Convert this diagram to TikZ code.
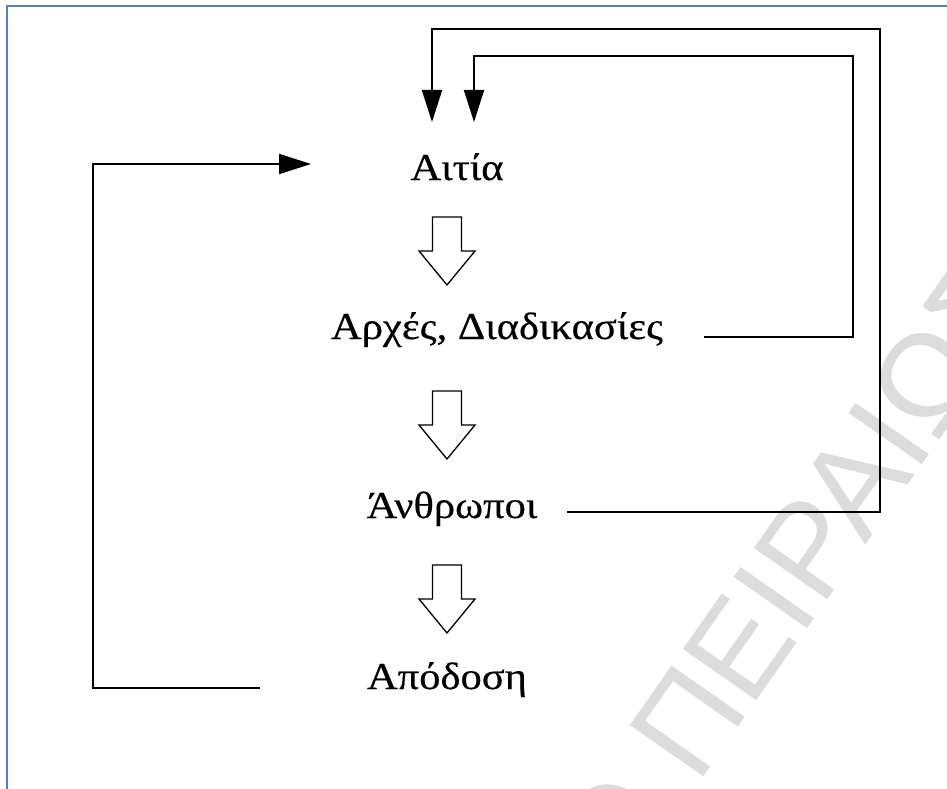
\documentclass[tikz,border=0pt]{standalone}
\usepackage{fontspec}
\setmainfont[FakeStretch=1.12,FakeBold=0.4]{Liberation Serif}
\newfontfamily\wmfont{Liberation Sans}
\usetikzlibrary{arrows.meta,calc}
\definecolor{frameblue}{HTML}{4F81BD}
\definecolor{wmgray}{HTML}{DCDCDC}

\tikzset{
  stage/.style={font=\fontsize{38}{42}\selectfont, inner sep=0pt, anchor=base},
  link/.style={line width=2pt, draw=black},
  arr/.style={link, -{Triangle[length=32pt,width=20pt]}},
  blockarrow/.style={draw=black, line width=1.3pt, fill=white, line join=miter},
  blockdown/.pic={
    \draw[blockarrow] (-14.5,0) -- (14.5,0) -- (14.5,34) -- (28,34)
      -- (0,68) -- (-28,34) -- (-14.5,34) -- cycle;
  }
}

\begin{document}
\begin{tikzpicture}[x=1pt,y=-1pt]
\useasboundingbox (0,0) rectangle (947,789);
\fill[white] (0,0) rectangle (947,789);

% faint watermark running diagonally
\begin{scope}
  \clip (0,0) rectangle (947,789);
  \node[rotate=55, anchor=base west, inner sep=0pt, text=wmgray,
        font=\wmfont\fontsize{130}{130}\selectfont] (wm) at (697,786)
        {\llap{Ο\ }ΠΕΙΡΑΙΩΣ};
\end{scope}

% page frame (left and top edges)
\draw[frameblue, line width=2.5pt] (7,789) -- (7,6) -- (947,6);

% stages
\node[stage] (cause)  at (457,180) {Αιτία};
\node[stage] (proc)   at (497,339) {Αρχές, Διαδικασίες};
\node[stage] (people) at (452,518) {Άνθρωποι};
\node[stage] (perf)   at (447,689) {Απόδοση};

% hollow arrows between stages
\pic at (447,217) {blockdown};
\pic at (447,391) {blockdown};
\pic at (447,565) {blockdown};

% loose ends of the feedback lines
\coordinate (perfOut)   at (260,688);
\coordinate (causeIn)   at (311,164);
\coordinate (peopleOut) at (567,512);
\coordinate (procOut)   at (704,337);
\coordinate (topInA)    at (432,122);
\coordinate (topInB)    at (474,122);

% feedback: performance back to cause
\draw[arr] (perfOut) -- (93,688) |- (causeIn);
% feedback: people back to cause
\draw[arr] (peopleOut) -| (880,29) -| (topInA);
% feedback: procedures back to cause
\draw[arr] (procOut) -| (853,56) -| (topInB);
\end{tikzpicture}
\end{document}
